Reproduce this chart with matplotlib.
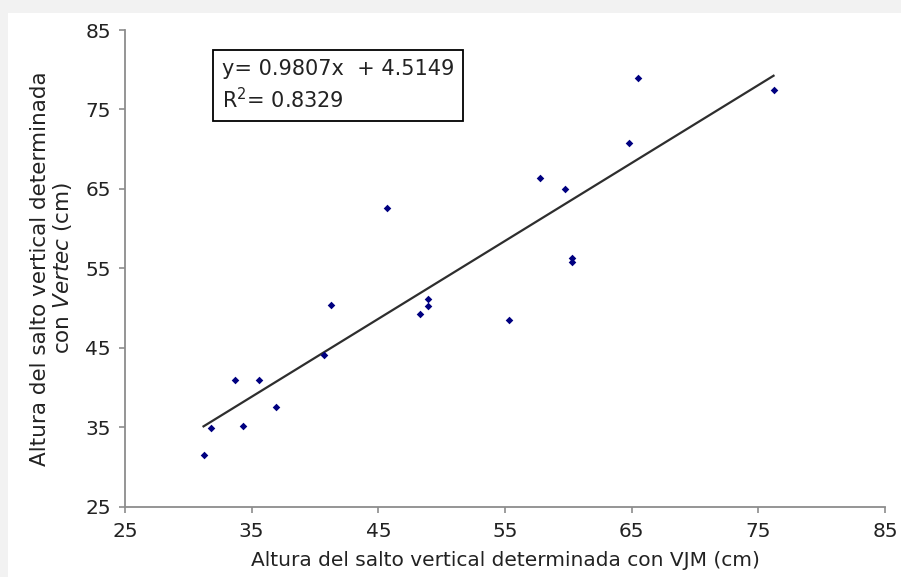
import numpy as np
import matplotlib.pyplot as plt
from matplotlib.patches import Rectangle

# salto vertical: VJM (x) vs Vertec (y), cm
vjm = [31.2, 31.8, 33.7, 34.3, 35.6, 36.9, 40.7, 41.3, 45.7, 48.3,
       48.9, 48.9, 55.3, 57.8, 59.7, 60.3, 60.3, 64.8, 65.5, 76.2]
vertec = [31.5, 34.9, 41.0, 35.2, 41.0, 37.5, 44.1, 50.4, 62.6, 49.3,
          50.2, 51.2, 48.5, 66.4, 65.0, 56.3, 55.8, 70.8, 79.0, 77.4]

slope = 0.9807
intercept = 4.5149
r2 = 0.8329

ticks = [25, 35, 45, 55, 65, 75, 85]

fig = plt.figure(figsize=(9.01, 5.77), dpi=100)
fig.patch.set_facecolor('#f2f2f2')
# white panel behind the chart
panel = Rectangle((8 / 901, 0), 1, 1 - 13 / 577, transform=fig.transFigure,
                  facecolor='white', edgecolor='none', zorder=-10)
fig.add_artist(panel)

ax = fig.add_axes([125 / 901, 1 - 506.7 / 577, 760 / 901, 476.7 / 577])
ax.patch.set_alpha(0)

ax.scatter(vjm, vertec, marker='D', s=15, color='#000080', zorder=3, linewidths=0)

xs = np.array([min(vjm), max(vjm)])
ax.plot(xs, slope * xs + intercept, color='#2e2e2e', lw=1.6, zorder=2)

ax.set_xlim(25, 85)
ax.set_ylim(25, 85)
ax.set_xticks(ticks)
ax.set_yticks(ticks)

for s in ['top', 'right']:
    ax.spines[s].set_visible(False)
for s in ['left', 'bottom']:
    ax.spines[s].set_color('#8c8c8c')
    ax.spines[s].set_linewidth(1.3)

ax.tick_params(axis='both', colors='#8c8c8c', length=4, width=1.2,
               labelcolor='#222222', labelsize=14.5)
ax.tick_params(axis='x', pad=7)
ax.tick_params(axis='y', pad=6)

ax.set_xlabel("Altura del salto vertical determinada con VJM (cm)",
              fontsize=14.5, color='#222222', labelpad=7)
ax.set_ylabel("Altura del salto vertical determinada\ncon $\\it{Vertec}$ (cm)",
              fontsize=15.5, color='#222222', labelpad=8, linespacing=1.1)

ax.text(222 / 901, 1 - 85.5 / 577, "y= 0.9807x  + 4.5149\nR$^2$= 0.8329",
        transform=fig.transFigure, fontsize=15, color='#222222',
        va='center', ha='left', linespacing=1.35,
        bbox=dict(boxstyle='square,pad=0.42', facecolor='white',
                  edgecolor='black', linewidth=1.3))

plt.savefig("out.png", dpi=100, facecolor=fig.get_facecolor())
